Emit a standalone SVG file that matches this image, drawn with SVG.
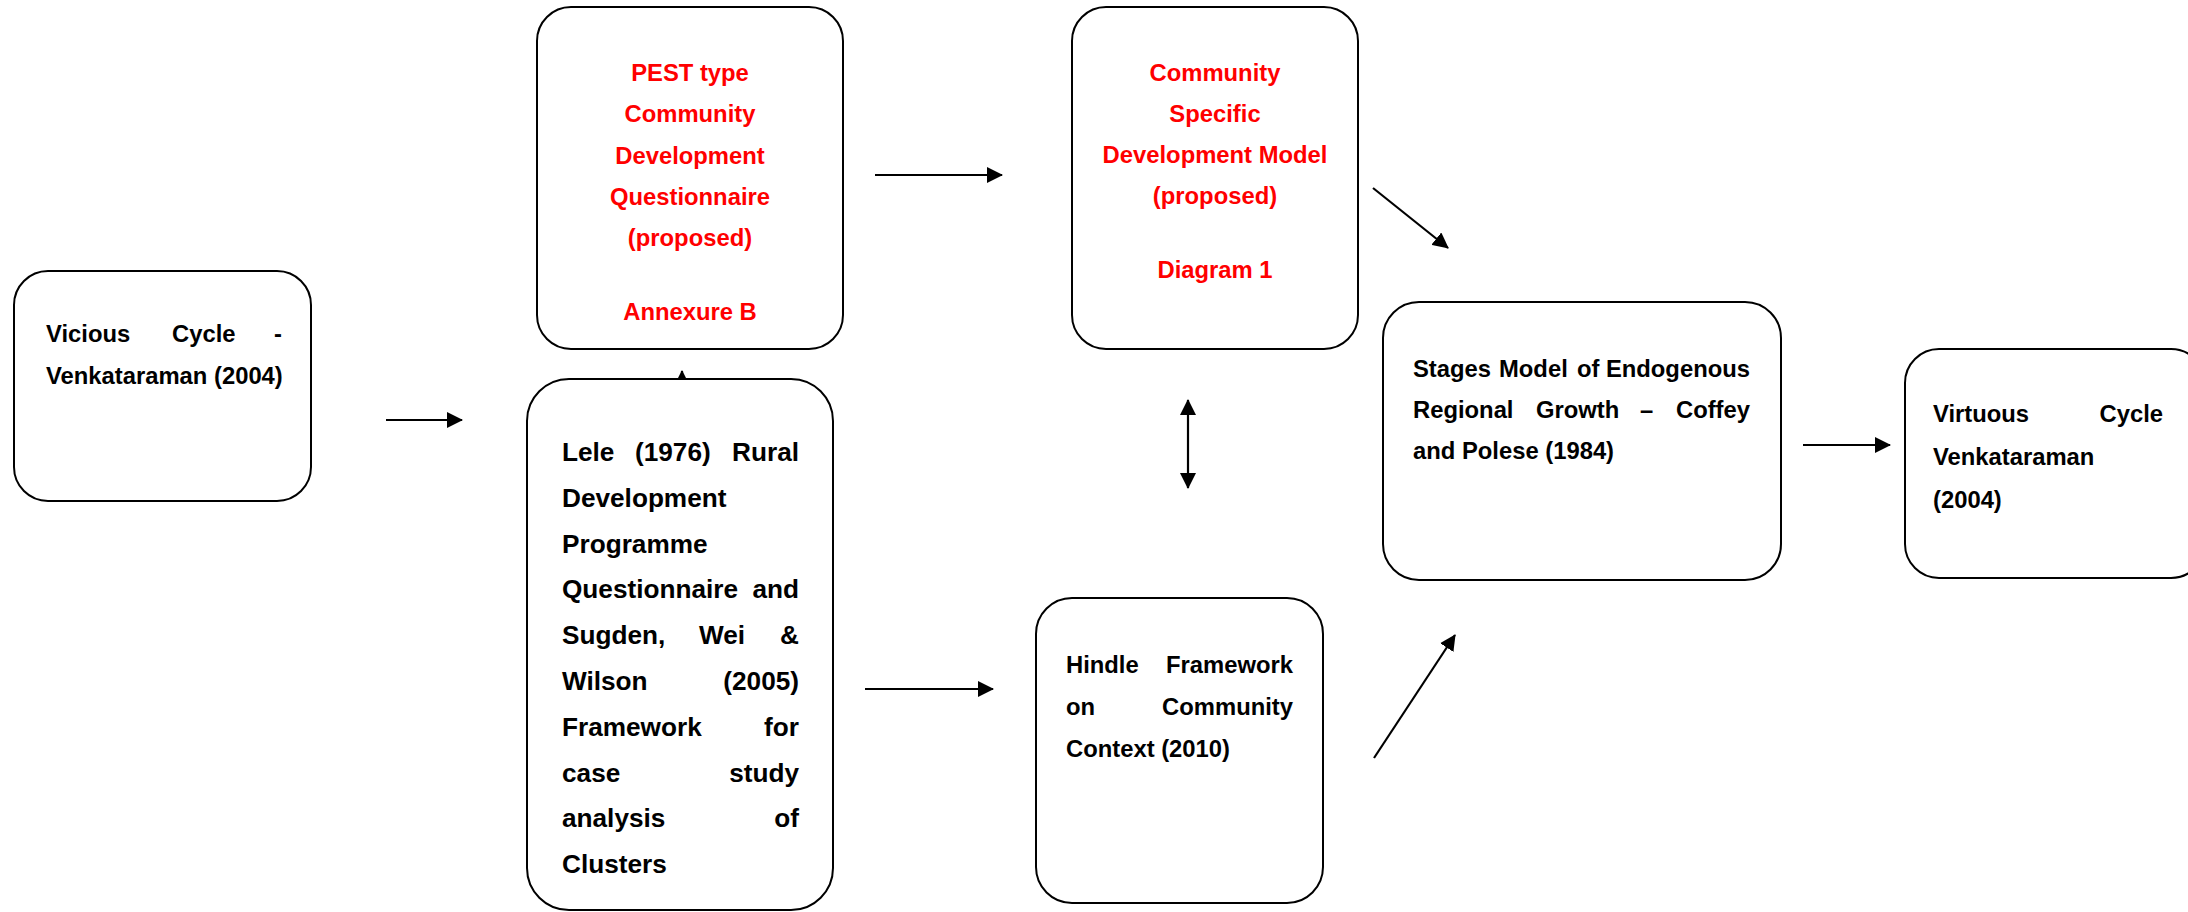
<svg xmlns="http://www.w3.org/2000/svg" width="2188" height="912" viewBox="0 0 2188 912">
  <style>
    .box { fill: #ffffff; stroke: #000000; stroke-width: 2; }
    .t { font-family: "Liberation Sans", Arial, sans-serif; font-weight: bold; font-size: 23.8px; fill: #000000; }
    .big { font-size: 26.2px; }
    .red { fill: #ff0000; text-anchor: middle; }
    .end { text-anchor: end; }
    .link { stroke: #000000; stroke-width: 2.2; fill: none; marker-end: url(#head); }
  </style>
  <defs>
    <marker id="head" markerUnits="userSpaceOnUse" markerWidth="16" markerHeight="16" viewBox="0 0 16 16" refX="15" refY="8" orient="auto-start-reverse">
      <path d="M0,0 L16,8 L0,16 z" fill="#000000"/>
    </marker>
  </defs>
  <rect width="2188" height="912" fill="#ffffff"/>

  <!-- connectors -->
  <g id="connectors">
    <line class="link" x1="386" y1="420" x2="462" y2="420"/>
    <line class="link" x1="682" y1="398" x2="682" y2="371"/>
    <line class="link" x1="875" y1="175" x2="1002" y2="175"/>
    <line class="link" x1="1373" y1="188" x2="1448" y2="248"/>
    <line class="link" x1="1188" y1="400" x2="1188" y2="488" style="marker-start:url(#head)"/>
    <line class="link" x1="865" y1="689" x2="993" y2="689"/>
    <line class="link" x1="1374" y1="758" x2="1455" y2="635"/>
    <line class="link" x1="1803" y1="445" x2="1890" y2="445"/>
  </g>

  <!-- Vicious cycle -->
  <g id="vicious">
    <rect class="box" x="14" y="271" width="297" height="230" rx="34"/>
    <text class="t" y="342"><tspan x="46">Vicious</tspan><tspan x="172">Cycle</tspan><tspan x="282" class="end">-</tspan></text>
    <text class="t" x="46" y="384">Venkataraman (2004)</text>
  </g>

  <!-- PEST questionnaire -->
  <g id="pest">
    <rect class="box" x="537" y="7" width="306" height="342" rx="34"/>
    <text class="t red" x="690" y="81">PEST type</text>
    <text class="t red" x="690" y="122">Community</text>
    <text class="t red" x="690" y="164">Development</text>
    <text class="t red" x="690" y="205">Questionnaire</text>
    <text class="t red" x="690" y="246">(proposed)</text>
    <text class="t red" x="690" y="320">Annexure B</text>
  </g>

  <!-- Community specific model -->
  <g id="community-model">
    <rect class="box" x="1072" y="7" width="286" height="342" rx="34"/>
    <text class="t red" x="1215" y="81">Community</text>
    <text class="t red" x="1215" y="122">Specific</text>
    <text class="t red" x="1215" y="163">Development Model</text>
    <text class="t red" x="1215" y="204">(proposed)</text>
    <text class="t red" x="1215" y="278">Diagram 1</text>
  </g>

  <!-- Lele / Sugden, Wei & Wilson -->
  <g id="lele">
    <rect class="box" x="527" y="379" width="306" height="531" rx="42"/>
    <text class="t big" y="461"><tspan x="562">Lele</tspan><tspan x="635">(1976)</tspan><tspan x="799" class="end">Rural</tspan></text>
    <text class="t big" x="562" y="507">Development</text>
    <text class="t big" x="562" y="553">Programme</text>
    <text class="t big" y="598"><tspan x="562">Questionnaire</tspan><tspan x="799" class="end">and</tspan></text>
    <text class="t big" y="644"><tspan x="562">Sugden,</tspan><tspan x="699">Wei</tspan><tspan x="799" class="end">&amp;</tspan></text>
    <text class="t big" y="690"><tspan x="562">Wilson</tspan><tspan x="799" class="end">(2005)</tspan></text>
    <text class="t big" y="736"><tspan x="562">Framework</tspan><tspan x="799" class="end">for</tspan></text>
    <text class="t big" y="782"><tspan x="562">case</tspan><tspan x="799" class="end">study</tspan></text>
    <text class="t big" y="827"><tspan x="562">analysis</tspan><tspan x="799" class="end">of</tspan></text>
    <text class="t big" x="562" y="873">Clusters</text>
  </g>

  <!-- Hindle framework -->
  <g id="hindle">
    <rect class="box" x="1036" y="598" width="287" height="305" rx="36"/>
    <text class="t" y="673"><tspan x="1066">Hindle</tspan><tspan x="1293" class="end">Framework</tspan></text>
    <text class="t" y="715"><tspan x="1066">on</tspan><tspan x="1293" class="end">Community</tspan></text>
    <text class="t" x="1066" y="757">Context (2010)</text>
  </g>

  <!-- Stages model -->
  <g id="stages">
    <rect class="box" x="1383" y="302" width="398" height="278" rx="36"/>
    <text class="t" y="377"><tspan x="1413">Stages</tspan><tspan x="1499">Model</tspan><tspan x="1577">of</tspan><tspan x="1750" class="end">Endogenous</tspan></text>
    <text class="t" y="418"><tspan x="1413">Regional</tspan><tspan x="1536">Growth</tspan><tspan x="1640">–</tspan><tspan x="1750" class="end">Coffey</tspan></text>
    <text class="t" x="1413" y="459">and Polese (1984)</text>
  </g>

  <!-- Virtuous cycle -->
  <g id="virtuous">
    <rect class="box" x="1905" y="349" width="300" height="229" rx="34"/>
    <text class="t" y="422"><tspan x="1933">Virtuous</tspan><tspan x="2163" class="end">Cycle</tspan></text>
    <text class="t" x="1933" y="465">Venkataraman</text>
    <text class="t" x="1933" y="508">(2004)</text>
  </g>
</svg>
